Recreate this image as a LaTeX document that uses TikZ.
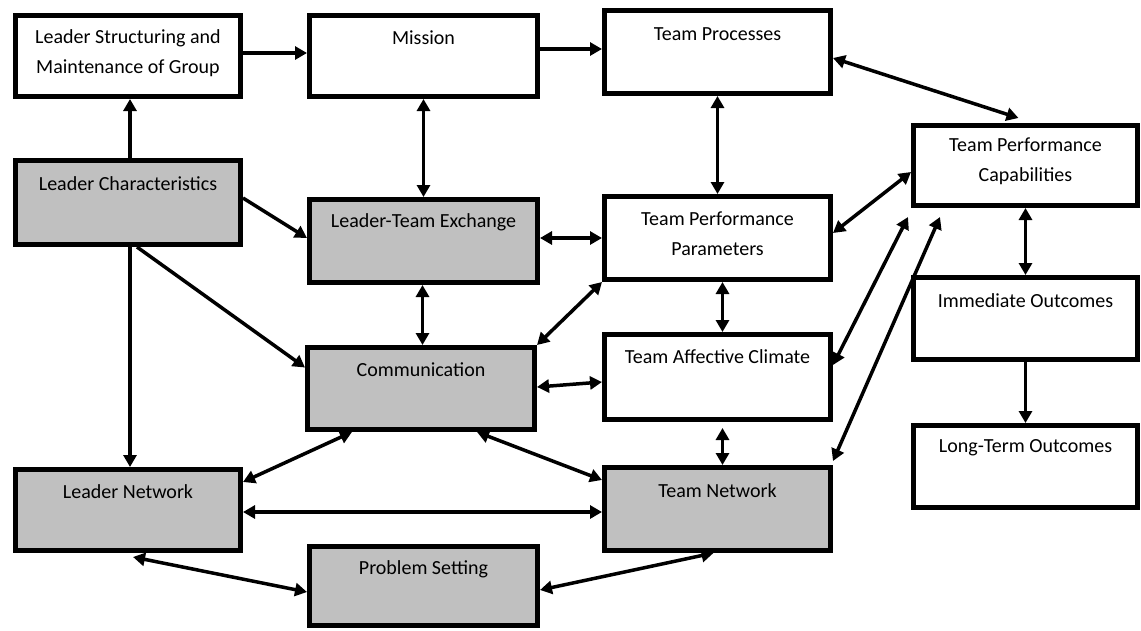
\documentclass[tikz,border=0pt]{standalone}
\usepackage{fontspec}
\setmainfont{Carlito}
\usetikzlibrary{arrows.meta,calc}
\definecolor{boxgray}{RGB}{192,192,192}
\begin{document}
\begin{tikzpicture}[x=1pt,y=-1pt,
  box/.style={draw=black, line width=5pt, fill=white, rectangle, inner sep=0pt},
  shaded/.style={box, fill=boxgray},
  lblone/.style={anchor=center, yshift=-25pt, inner sep=0pt, align=center, font=\fontsize{20}{30}\selectfont},
  lbltwo/.style={anchor=center, yshift=-40pt, inner sep=0pt, align=center, font=\fontsize{20}{30}\selectfont},
  arr/.style={line width=3.5pt, -{Triangle[length=12pt,width=13pt]}},
  biarr/.style={line width=3.5pt, {Triangle[length=12pt,width=13pt]}-{Triangle[length=12pt,width=13pt]}}]
\useasboundingbox (0,0) rectangle (1141,630);

% boxes
\node[box, minimum width=225pt, minimum height=81pt,
  label={[lbltwo]north:Leader Structuring and\\Maintenance of Group}] (lsm) at (128,56) {};
\node[box, minimum width=228pt, minimum height=81pt,
  label={[lblone]north:Mission}] (mission) at (423.5,56) {};
\node[box, minimum width=226pt, minimum height=83pt,
  label={[lblone,yshift=-1pt]north:Team Processes}] (tp) at (717.5,52) {};
\node[box, minimum width=224pt, minimum height=80pt,
  label={[lbltwo,yshift=2pt]north:Team Performance\\Capabilities}] (tpc) at (1025.5,165.5) {};
\node[shaded, minimum width=225pt, minimum height=84pt,
  label={[lblone,yshift=-1pt]north:Leader Characteristics}] (lc) at (128,202.5) {};
\node[shaded, minimum width=228pt, minimum height=83pt,
  label={[lblone]north:Leader-Team Exchange}] (lte) at (423.5,241) {};
\node[box, minimum width=226pt, minimum height=83pt,
  label={[lbltwo]north:Team Performance\\Parameters}] (tpp) at (717.5,238) {};
\node[box, minimum width=224pt, minimum height=82pt,
  label={[lblone,yshift=-1pt]north:Immediate Outcomes}] (io) at (1025.5,318.5) {};
\node[shaded, minimum width=227pt, minimum height=82pt,
  label={[lblone]north:Communication}] (comm) at (421,388.5) {};
\node[box, minimum width=226pt, minimum height=85pt,
  label={[lblone]north:Team Affective Climate}] (tac) at (717.5,377) {};
\node[box, minimum width=224pt, minimum height=82pt,
  label={[lblone]north:Long-Term Outcomes}] (lto) at (1025.5,466.5) {};
\node[shaded, minimum width=225pt, minimum height=81pt,
  label={[lblone]north:Leader Network}] (ln) at (128,510) {};
\node[shaded, minimum width=226pt, minimum height=83pt,
  label={[lblone,yshift=-1pt]north:Team Network}] (tn) at (717.5,509) {};
\node[shaded, minimum width=228pt, minimum height=79pt,
  label={[lblone]north:Problem Setting}] (ps) at (423.5,586) {};

% one-way connectors
\draw[arr] ($(lc.north)+(2,0)$) -- ($(lsm.south)+(2,0)$);
\draw[arr] ($(lsm.east)+(0,-3)$) -- ($(mission.west)+(0,-3)$);
\draw[arr] ($(mission.east)+(0,-7)$) -- ($(tp.west)+(0,-3)$);
\draw[arr] ($(lc.east)+(0,-4.5)$) -- ($(lte.west)+(0,-3)$);
\draw[arr] ($(lc.south)+(9,0)$) -- ($(comm.west)+(0,-21)$);
\draw[arr] ($(lc.south)+(2,0)$) -- ($(ln.north)+(2,0)$);
\draw[arr] (io) -- (lto);

% two-way connectors
\draw[biarr] (mission.south) -- (lte.north);
\draw[biarr] (tp.south) -- (tpp.north);
\draw[biarr] ($(tp.east)+(0,6)$) -- ($(tpc.north)+(-7,-5)$);
\draw[biarr] ($(lte.east)+(0,-3)$) -- (tpp.west);
\draw[biarr] ($(lte.south)+(-1,0)$) -- ($(comm.north)+(1.5,0)$);
\draw[biarr] ($(tpp.east)+(0,-5)$) -- ($(tpc.west)+(0,6.5)$);
\draw[biarr] ($(tpp.south)+(5,0)$) -- ($(tac.north)+(5,0)$);
\draw[biarr] (comm.north east) -- (tpp.south west);
\draw[biarr] ($(comm.east)+(0,-1.5)$) -- ($(tac.west)+(0,5)$);
\draw[biarr] ($(tac.east)+(0,-12)$) -- ($(tpc.south west)+(-3,9)$);
\draw[biarr] ($(tn.north east)+(0,-4)$) -- ($(tpc.south west)+(29,9)$);
\draw[biarr] ($(tac.south)+(5,6)$) -- ($(tn.north)+(5,0)$);
\draw[biarr] (tpc) -- (io);
\draw[biarr] ($(ln.east)+(0,-28)$) -- ($(comm.south)+(-69,0)$);
\draw[biarr] ($(tn.west)+(0,-29)$) -- ($(comm.south)+(56,0)$);
\draw[biarr] ($(ln.east)+(0,2)$) -- ($(tn.west)+(0,3)$);
\draw[biarr] ($(ln.south)+(5,4)$) -- ($(ps.west)+(0,6)$);
\draw[biarr] ($(ps.east)+(0,4)$) -- ($(tn.south)+(-4,0)$);
\end{tikzpicture}
\end{document}
